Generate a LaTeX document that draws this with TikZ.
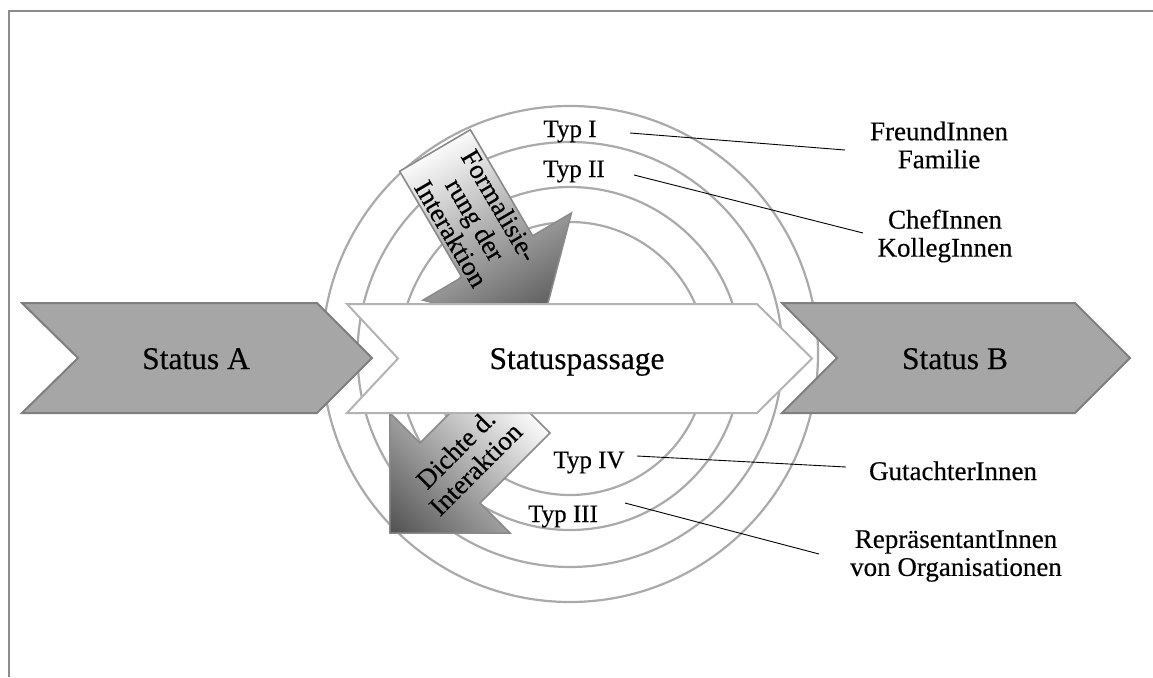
\documentclass[tikz,border=0pt]{standalone}
\usepackage{fontspec}
\setmainfont{Liberation Serif}[FakeBold=0.35]
\definecolor{chevfill}{HTML}{A6A6A6}
\definecolor{chevline}{HTML}{7F7F7F}
\definecolor{passline}{HTML}{B3B3B3}
\definecolor{ringc}{HTML}{AAAAAA}
\definecolor{framec}{HTML}{8C8C8C}
\definecolor{arrline}{HTML}{8A8A8A}
\definecolor{arrlight}{HTML}{FAFAFA}
\definecolor{arrdark}{HTML}{505050}
\begin{document}
\begin{tikzpicture}[x=1pt,y=-1pt,
  chevron/.style={fill=chevfill, draw=chevline, line width=2pt, line join=miter},
  passage/.style={fill=white, draw=passline, line width=2pt, line join=miter},
  ring/.style={draw=ringc, line width=2.2pt},
  blockarrow/.style={draw=arrline, line width=1.6pt, line join=miter, left color=arrlight, right color=arrdark},
  typlbl/.style={font=\fontsize{25}{28}\selectfont, inner sep=0pt, anchor=base},
  rlbl/.style={font=\fontsize{27}{28}\selectfont, align=center, inner sep=0pt},
  arrlbl/.style={font=\fontsize{27}{28}\selectfont, align=center, inner sep=0pt},
  biglbl/.style={font=\fontsize{31.5}{34}\selectfont, inner sep=0pt, anchor=base},
  conn/.style={draw=black, line width=0.9pt}]
\useasboundingbox (0,0) rectangle (1153,677);
\fill[white] (0,0) rectangle (1153,677);
% frame
\draw[framec, line width=1.8pt] (9,677) -- (9,11) -- (1153,11);
% rings
\draw[ring] (570,354) circle[radius=248];
\draw[ring] (570,354.5) circle[radius=212.5];
\draw[ring] (570,358.5) circle[radius=171.5];
\draw[ring] (570,358.5) circle[radius=136.5];
% block arrow: Formalisierung
\begin{scope}[transform canvas={shift={(435,150.5)},rotate=-59.6}]
  \draw[blockarrow] (0,-41) -- (123,-41) -- (123,-86) -- (209,0) -- (123,86) -- (123,41) -- (0,41) -- cycle;
\end{scope}
% block arrow: Dichte
\begin{scope}[transform canvas={shift={(520,403)},rotate=225}]
  \draw[blockarrow] (0,-42.4) -- (99,-42.4) -- (99,-85) -- (184,0) -- (99,85) -- (99,42.4) -- (0,42.4) -- cycle;
\end{scope}
% chevrons
\draw[passage] (347,304) -- (757,304) -- (812,358.5) -- (757,413) -- (347,413) -- (398,358.5) -- cycle;
\draw[chevron] (22,303) -- (317,303) -- (372,358) -- (317,413) -- (22,413) -- (78,358) -- cycle;
\draw[chevron] (782,303) -- (1075,303) -- (1130,358) -- (1075,413) -- (782,413) -- (837,358) -- cycle;
% main labels
\node[biglbl] (sa) at (196,369) {Status A};
\node[biglbl] (sp) at (577,369) {Statuspassage};
\node[biglbl] (sb) at (955,369) {Status B};
% arrow labels
\node[arrlbl, rotate=-59.6] (form) at (475.5,219.5) {Formalisie-\\rung der\\Interaktion};
\node[arrlbl, rotate=45] (dichte) at (465.5,459) {Dichte d.\\Interaktion};
% type labels
\node[typlbl] (typ1) at (570,137) {Typ I};
\node[typlbl] (typ2) at (574,177) {Typ II};
\node[typlbl] (typ4) at (589,468) {Typ IV};
\node[typlbl] (typ3) at (563,522) {Typ III};
% right labels
\node[rlbl] (freund) at (939,145) {FreundInnen\\Familie};
\node[rlbl] (chef) at (945,236) {ChefInnen\\KollegInnen};
\node[rlbl, anchor=base] (gut) at (953,480) {GutachterInnen};
\node[rlbl] (rep) at (956,556) {RepräsentantInnen\\von Organisationen};
% connector ends
\coordinate (c1s) at (630,133);
\coordinate (c1e) at (845,150);
\coordinate (c2s) at (634,175);
\coordinate (c2e) at (863,233);
\coordinate (c4s) at (637,456);
\coordinate (c4e) at (846,467);
\coordinate (c3s) at (625,503);
\coordinate (c3e) at (819,554);
\draw[conn] (c1s) -- (c1e);
\draw[conn] (c2s) -- (c2e);
\draw[conn] (c4s) -- (c4e);
\draw[conn] (c3s) -- (c3e);
\end{tikzpicture}
\end{document}
